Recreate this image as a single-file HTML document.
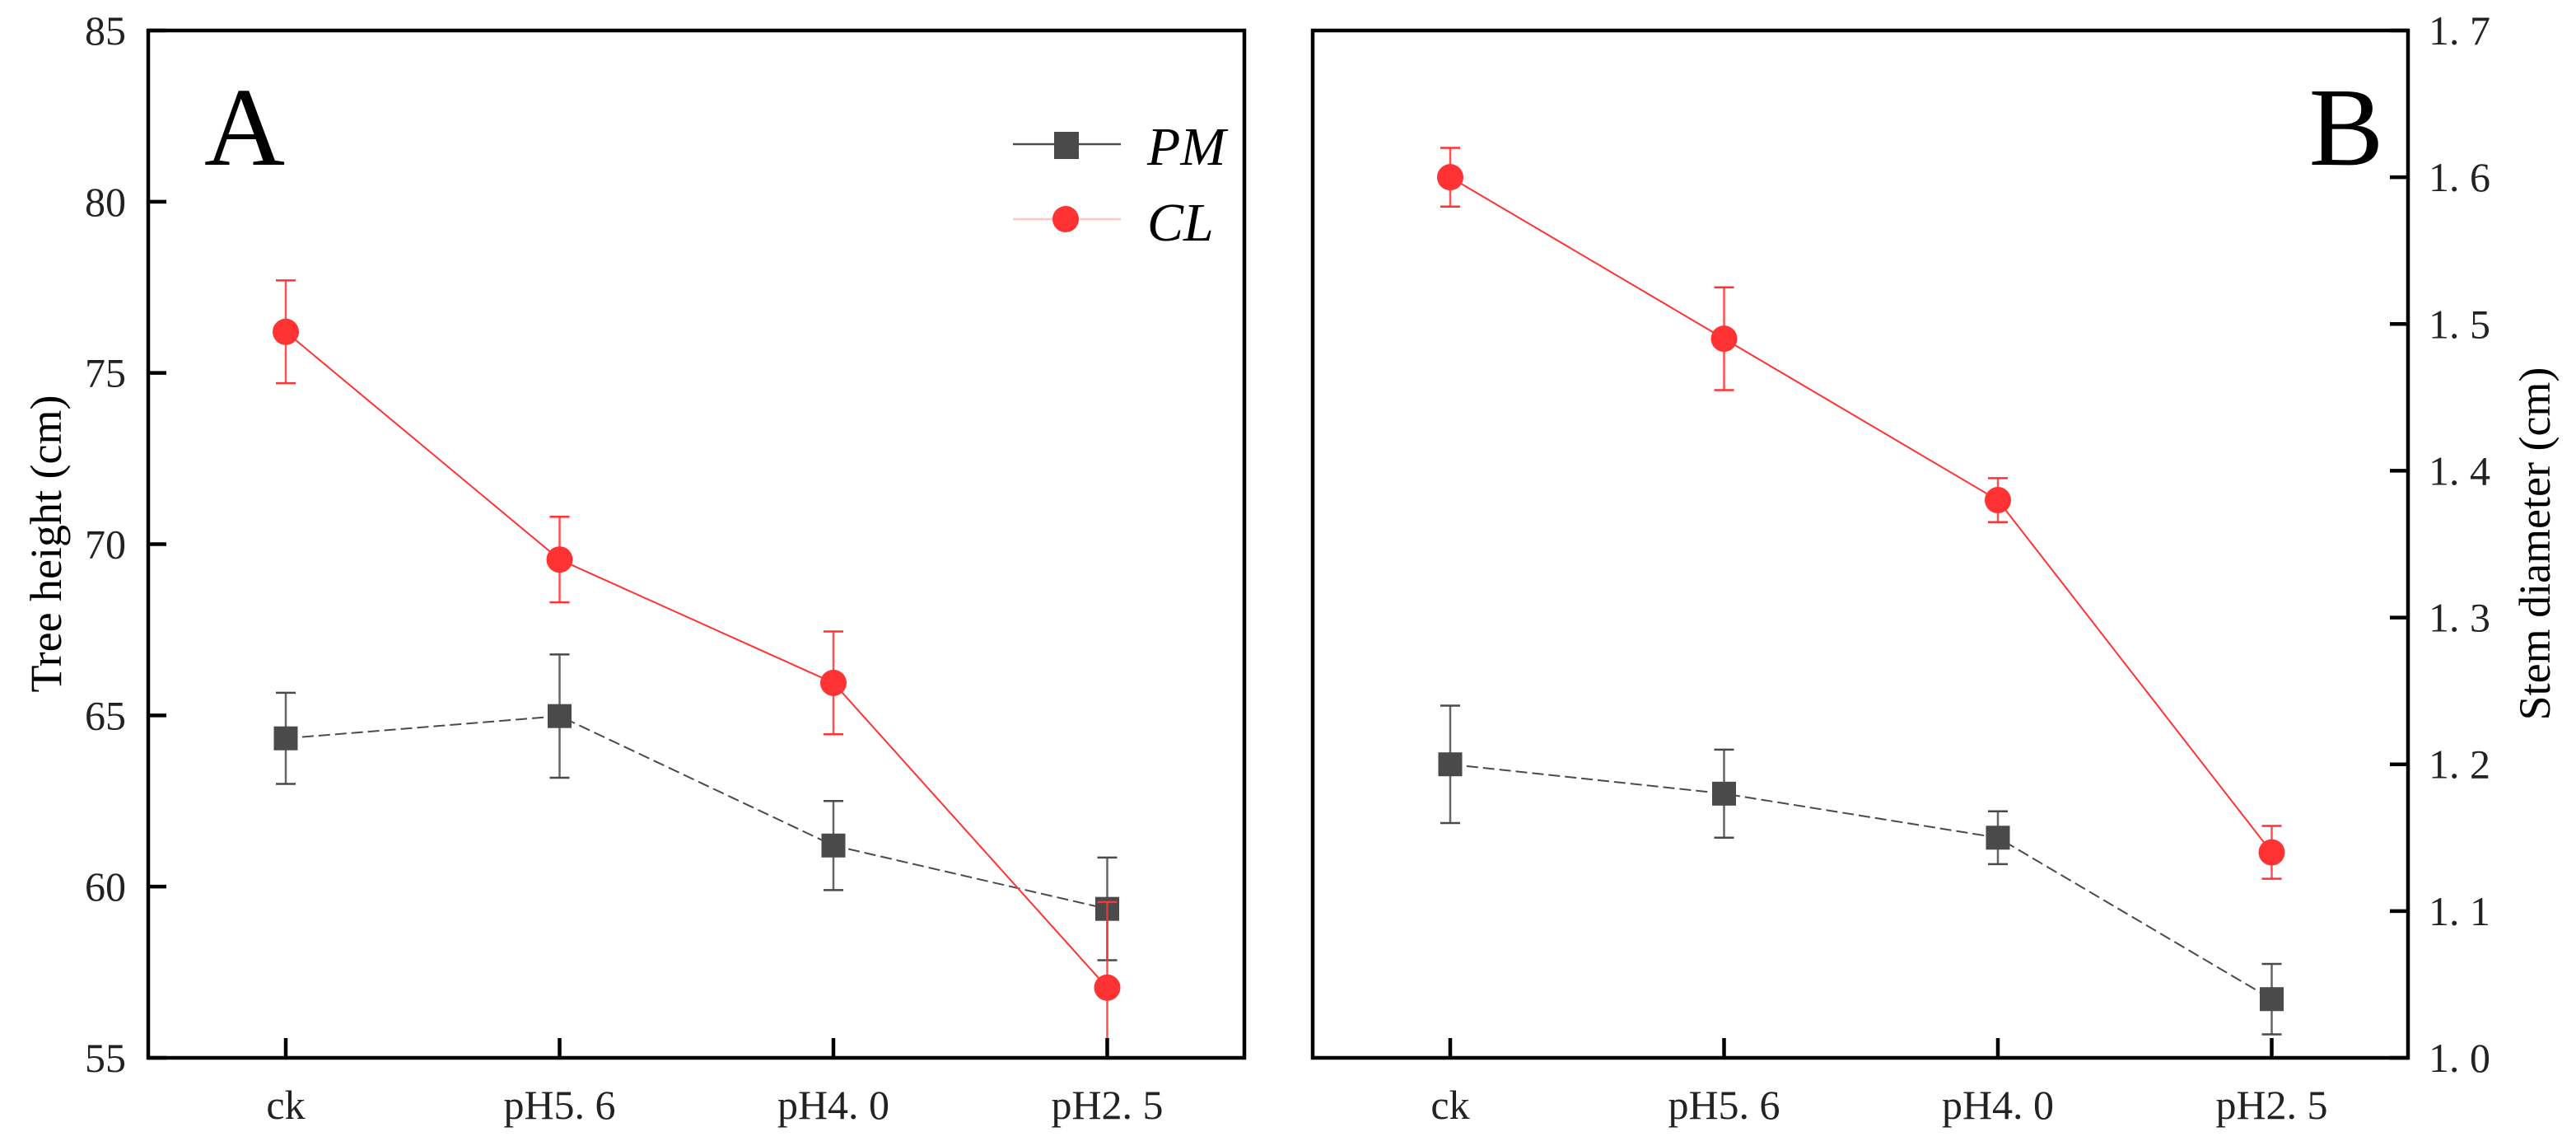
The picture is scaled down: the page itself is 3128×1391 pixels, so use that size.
<!DOCTYPE html>
<html><head><meta charset="utf-8"><style>
html,body{margin:0;padding:0;background:#fff;}
svg{display:block;font-family:"Liberation Serif","Noto Serif CJK SC",serif;}
</style></head><body>
<svg id="chart" width="3128" height="1391" viewBox="0 0 3128 1391" xmlns="http://www.w3.org/2000/svg"></svg>
<script>
const categories = ["ck","pH5. 6","pH4. 0","pH2. 5"];
const heightPM = [64.33, 64.98, 61.2, 59.35];
const heightPMErr = [1.33, 1.8, 1.3, 1.5];
const heightCL = [76.2, 69.55, 65.95, 57.05];
const heightCLErr = [1.5, 1.25, 1.5, 2.5];
const diamPM = [1.20, 1.18, 1.15, 1.04];
const diamPMErr = [0.04, 0.03, 0.018, 0.024];
const diamCL = [1.60, 1.49, 1.38, 1.14];
const diamCLErr = [0.02, 0.035, 0.015, 0.018];
const heightTicks = [55,60,65,70,75,80,85];
const diamTicks = [1.0,1.1,1.2,1.3,1.4,1.5,1.6,1.7];
const diamTickLabels = ["1. 0","1. 1","1. 2","1. 3","1. 4","1. 5","1. 6","1. 7"];

const NS="http://www.w3.org/2000/svg";
const svg=document.getElementById('chart');
function mk(tag,attrs,parent){const e=document.createElementNS(NS,tag);for(const k in attrs)e.setAttribute(k,attrs[k]);(parent||svg).appendChild(e);return e;}
const RED="#ff3333", GRAY="#4a4a4a";
const TOP=37, BOT=1284;

function panel(opt){
  const g=mk('g',{});
  
  
  const L=opt.left,R=opt.right;
  const xs=i=>L+167+i*332.5;
  const ys=v=>BOT-(v-opt.min)/(opt.max-opt.min)*(BOT-TOP);
  const clipId='clip-'+opt.name;
  const cp=mk('clipPath',{id:clipId},g);mk('rect',{x:L,y:TOP,width:R-L,height:BOT-TOP},cp);
  const plot=mk('g',{'clip-path':'url(#'+clipId+')'},g);
  function series(vals,errs,color,isSquare,nm,dash){
    vals.forEach((v,i)=>{
      const x=xs(i),y1=ys(v+errs[i]),y2=ys(v-errs[i]);
      const eb=mk('g',{},plot);
      
      
      mk('line',{x1:x,y1:y1,x2:x,y2:y2,stroke:color,'stroke-width':2.5,'stroke-opacity':0.85},eb);
      mk('line',{x1:x-12,y1:y1,x2:x+12,y2:y1,stroke:color,'stroke-width':2.5},eb);
      mk('line',{x1:x-12,y1:y2,x2:x+12,y2:y2,stroke:color,'stroke-width':2.5},eb);
    });
    const pts=vals.map((v,i)=>xs(i)+','+ys(v)).join(' ');
    const ln=mk('polyline',{points:pts,fill:'none',stroke:color,'stroke-width':2,'stroke-dasharray':dash||'none'},plot);
    
    
    vals.forEach((v,i)=>{
      let m;
      if(isSquare) m=mk('rect',{x:xs(i)-14.5,y:ys(v)-14.5,width:29,height:29,fill:GRAY},plot);
      else m=mk('circle',{cx:xs(i),cy:ys(v),r:16,fill:RED},plot);
      
      
    });
  }
  series(opt.pm,opt.pmErr,GRAY,true,'pm','14 6');
  series(opt.cl,opt.clErr,RED,false,'cl');
  const fr=mk('rect',{x:L,y:TOP,width:R-L,height:BOT-TOP,fill:'none',stroke:'#000','stroke-width':4.5},g);
  
  
  opt.ticks.forEach((t,i)=>{
    const y=ys(t);
    if(opt.rightAxis){
      mk('line',{x1:R,y1:y,x2:R-22,y2:y,stroke:'#000','stroke-width':4.5},g);
      const tx=mk('text',{x:R+25,y:y+17,'font-size':50,fill:'#222'},g);
      tx.textContent=opt.tickLabels[i];
      
      
    } else {
      mk('line',{x1:L,y1:y,x2:L+22,y2:y,stroke:'#000','stroke-width':4.5},g);
      const tx=mk('text',{x:L-27,y:y+17,'font-size':50,'text-anchor':'end',fill:'#222'},g);
      tx.textContent=String(t);
      
      
    }
  });
  categories.forEach((c,i)=>{
    const x=xs(i);
    mk('line',{x1:x,y1:BOT,x2:x,y2:BOT-24,stroke:'#000','stroke-width':4.5},g);
    const tx=mk('text',{x:x,y:1358,'font-size':50,'text-anchor':'middle',fill:'#222'},g);
    tx.textContent=c;
    
    
  });
  const lt=mk('text',{x:opt.letterX,y:200,'font-size':136,'text-anchor':'middle',fill:'#000'},g);
  lt.textContent=opt.letter;
  
  
  const at=mk('text',{x:0,y:0,'font-size':54,'text-anchor':'middle',fill:'#000',transform:'translate('+opt.titleX+',660) rotate(-90)'},g);
  at.textContent=opt.title;
  
  
}

panel({name:'panel-a',left:180,right:1511,min:55,max:85,ticks:heightTicks,pm:heightPM,pmErr:heightPMErr,cl:heightCL,clErr:heightCLErr,letter:'A',letterX:297,title:'Tree height (cm)',titleX:74});
panel({name:'panel-b',left:1594,right:2924,min:1.0,max:1.7,ticks:diamTicks,tickLabels:diamTickLabels,pm:diamPM,pmErr:diamPMErr,cl:diamCL,clErr:diamCLErr,letter:'B',letterX:2849,title:'Stem diameter (cm)',titleX:3096,rightAxis:true});

const lg=mk('g',{});


const e1=mk('g',{},lg);


mk('line',{x1:1230,y1:175,x2:1361,y2:175,stroke:GRAY,'stroke-width':2.5},e1);
mk('rect',{x:1280,y:160,width:30,height:33,fill:GRAY},e1);
const t1=mk('text',{x:1393,y:200,'font-size':66,'font-style':'italic',fill:'#000'},e1);t1.textContent='PM';
const e2=mk('g',{},lg);


mk('line',{x1:1230,y1:266,x2:1361,y2:266,stroke:'#ffc8c8','stroke-width':2.5},e2);
mk('circle',{cx:1294,cy:266,r:16,fill:RED},e2);
const t2=mk('text',{x:1393,y:292,'font-size':66,'font-style':'italic',fill:'#000'},e2);t2.textContent='CL';
</script>
</body></html>
